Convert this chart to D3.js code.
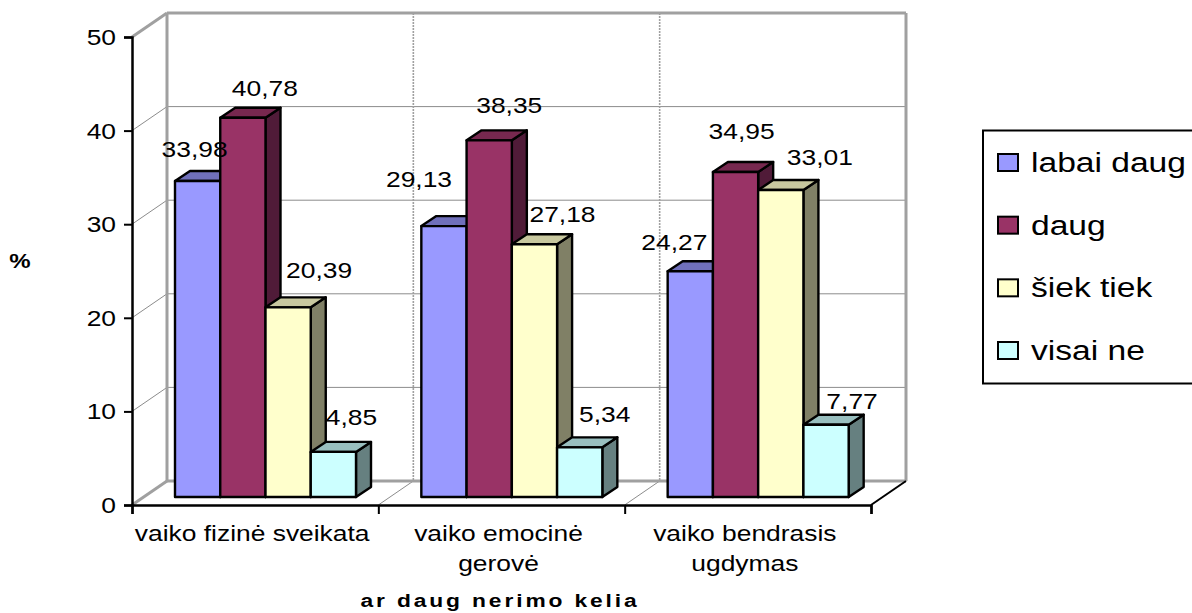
<!DOCTYPE html>
<html>
<head>
<meta charset="utf-8">
<script src="https://cdnjs.cloudflare.com/ajax/libs/d3/7.8.5/d3.min.js"></script>
<style>
  html, body { margin: 0; padding: 0; background: #fff; overflow: hidden; }
  text { font-family: "Liberation Sans", Arial, sans-serif; fill: #000; }
</style>
</head>
<body>
<svg id="chart" width="1192" height="613"></svg>
<script>
// Survey results: share of respondents by level of concern, per topic
const categories = [["vaiko fizinė sveikata"], ["vaiko emocinė", "gerovė"], ["vaiko bendrasis", "ugdymas"]];
const seriesNames = ["labai daug", "daug", "šiek tiek", "visai ne"];
const labaiDaug = [33.98, 29.13, 24.27];
const daug = [40.78, 38.35, 34.95];
const siekTiek = [20.39, 27.18, 33.01];
const visaiNe = [4.85, 5.34, 7.77];
const yTicks = [0, 10, 20, 30, 40, 50];

const seriesValues = [labaiDaug, daug, siekTiek, visaiNe];
const faceColors = ["#9999ff", "#993366", "#ffffcc", "#ccffff"];
const topColors = ["#7070bb", "#77284f", "#c8c89f", "#99bfbf"];
const sideColors = ["#55558e", "#501b38", "#808066", "#668080"];

const svg = d3.select("#chart");
const fmt = v => v.toFixed(2).replace(".", ",");

// All text is set in a slightly wide cut
const WIDE = 1.2;
const putText = (g, x, y, str, size, anchor) =>
  g.append("text")
    .attr("transform", `translate(${x},${y}) scale(${WIDE},1)`)
    .attr("font-size", size)
    .attr("text-anchor", anchor || "middle")
    .text(str);

// Pseudo-3D box: front plane scales, plus an offset to the back wall
const x0 = d3.scaleBand().domain(d3.range(categories.length)).range([132, 871]);
const y = d3.scaleLinear().domain([0, 50]).range([505, 37]);
const wall = { dx: 35, dy: -24 };
const bar = { dx: 15, dy: -10 };
const barY = d3.scaleLinear().domain([0, 50]).range([497, 32]);
const xInner = d3.scaleBand().domain(d3.range(4)).range([0, 181]);
const groupX = i => x0(i) + 43;

const gridColor = "#8c8c8c", wallColor = "#a0a0a0";
const line = (g, x1, y1, x2, y2, color, w, dash) =>
  g.append("line").attr("x1", x1).attr("y1", y1).attr("x2", x2).attr("y2", y2)
    .attr("stroke", color).attr("stroke-width", w).attr("stroke-dasharray", dash || null);

// Walls and grid
const grid = svg.append("g");
yTicks.forEach(t => {
  const yy = y(t);
  const edge = t === 50 || t === 0;
  line(grid, 132, yy, 132 + wall.dx, yy + wall.dy, edge ? wallColor : gridColor, edge ? 3 : 1);
  if (t > 0) line(grid, 132 + wall.dx, yy + wall.dy, 871 + wall.dx, yy + wall.dy, t === 50 ? wallColor : gridColor, t === 50 ? 3 : 1);
});
[1, 2].forEach(i => {
  const xx = x0(i) + wall.dx;
  line(grid, xx, y(50) + wall.dy, xx, y(0) + wall.dy, "#a0a0a0", 1.6, "2,1");
  line(grid, x0(i), y(0), xx, y(0) + wall.dy, gridColor, 1);
});
line(grid, 132 + wall.dx, y(50) + wall.dy, 132 + wall.dx, y(0) + wall.dy, wallColor, 3);
line(grid, 871 + wall.dx, y(50) + wall.dy, 871 + wall.dx, y(0) + wall.dy, wallColor, 3);
line(grid, 132 + wall.dx, y(0) + wall.dy, 871 + wall.dx, y(0) + wall.dy, wallColor, 3);
line(grid, 871, y(0), 871 + wall.dx, y(0) + wall.dy, "#000", 2);

// Bars, drawn back to front so neighbours overlap the side faces
const bars = svg.append("g").attr("stroke", "#000").attr("stroke-width", 2.4).attr("stroke-linejoin", "round");
categories.forEach((c, i) => {
  seriesValues.forEach((vals, s) => {
    const l = groupX(i) + xInner(s), w = xInner.bandwidth(), r = l + w;
    const t = barY(vals[i]), b = barY(0);
    const pts = a => a.map(p => p.join(",")).join(" ");
    bars.append("polygon").attr("fill", sideColors[s])
      .attr("points", pts([[r, t], [r + bar.dx, t + bar.dy], [r + bar.dx, b + bar.dy], [r, b]]));
    bars.append("polygon").attr("fill", topColors[s])
      .attr("points", pts([[l, t], [l + bar.dx, t + bar.dy], [r + bar.dx, t + bar.dy], [r, t]]));
    bars.append("rect").attr("x", l).attr("y", t).attr("width", w).attr("height", b - t).attr("fill", faceColors[s]);
  });
});

// Value labels, nudged off the bars one by one
const labelNudge = [
  [[-3, -24], [22, -22], [31, -29], [18, -27]],
  [[-25, -39], [20, -27], [28, -22], [25, -25]],
  [[-16, -21], [6, -33], [39, -25], [26, -16]]
];
const labels = svg.append("g");
categories.forEach((c, i) => {
  seriesValues.forEach((vals, s) => {
    const [nx, ny] = labelNudge[i][s];
    putText(labels,
      groupX(i) + xInner(s) + xInner.bandwidth() / 2 + nx,
      barY(vals[i]) + ny,
      fmt(vals[i]), 22);
  });
});

// Axes
const yAxis = svg.append("g").attr("transform", "translate(132,0)")
  .call(d3.axisLeft(y).tickValues(yTicks).tickSize(8).tickFormat(""));
const yTickLabels = svg.append("g");
yTicks.forEach(t => putText(yTickLabels, 116, y(t) + 8, d3.format("d")(t), 22, "end"));
const xAxis = svg.append("g").attr("transform", "translate(0,505)")
  .call(d3.axisBottom(d3.scaleLinear().domain([0, 3]).range([132, 871])).tickValues([0, 1, 2, 3]).tickSize(9).tickFormat(""));
[yAxis, xAxis].forEach(a => {
  a.selectAll("path").attr("stroke", "#000").attr("stroke-width", 2.5);
  a.selectAll("line").attr("stroke", "#000").attr("stroke-width", 2);
});

// Category labels
const catLabels = svg.append("g");
categories.forEach((lines, i) => {
  lines.forEach((ln, k) => {
    putText(catLabels, x0(i) + x0.bandwidth() / 2 - 3, 541 + k * 30, ln, 22);
  });
});

// Axis titles
putText(svg, 20, 268, "%", 20).attr("font-weight", "bold");
putText(svg, 500, 607, "ar daug nerimo kelia", 19)
  .attr("font-weight", "bold").attr("letter-spacing", 2.4);

// Legend, running off the right edge of the canvas
const legend = svg.append("g");
legend.append("rect").attr("x", 983).attr("y", 130.5).attr("width", 220).attr("height", 253)
  .attr("fill", "#fff").attr("stroke", "#000").attr("stroke-width", 2);
const legendY = d3.scalePoint().domain(seriesNames).range([162, 350]);
seriesNames.forEach((n, s) => {
  legend.append("rect").attr("x", 998).attr("y", legendY(n) - 8).attr("width", 20).attr("height", 17)
    .attr("fill", faceColors[s]).attr("stroke", "#000").attr("stroke-width", 2);
  putText(legend, 1031, legendY(n) + 10, n, 28, "start");
});
</script>
</body>
</html>
